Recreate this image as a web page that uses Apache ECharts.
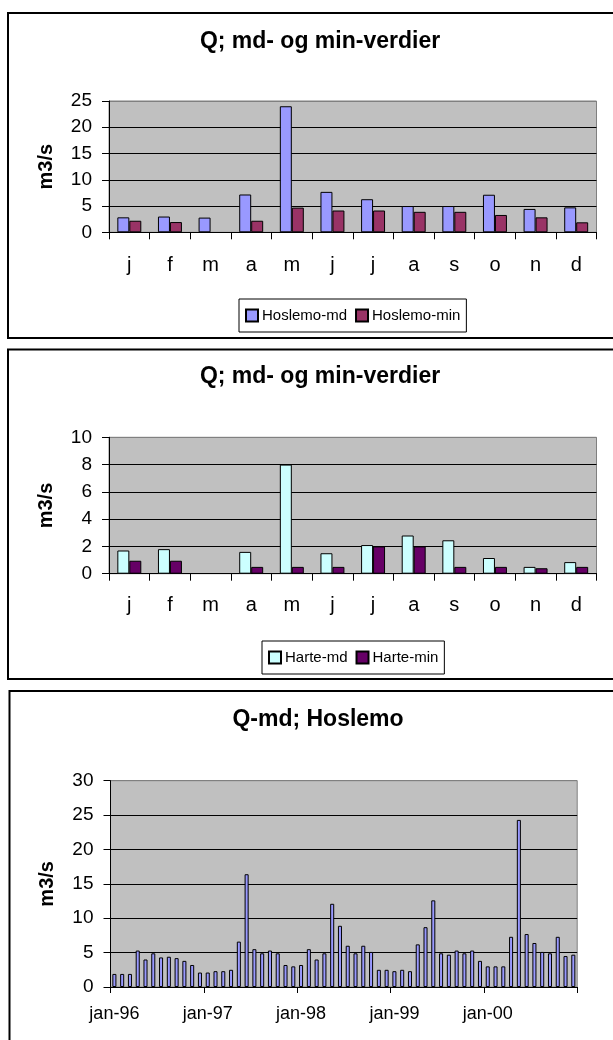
<!DOCTYPE html>
<html><head><meta charset="utf-8">
<script src="https://cdn.jsdelivr.net/npm/echarts@6/dist/echarts.min.js"></script>
<style>html,body{margin:0;padding:0;background:#fff}#c{width:613px;height:1040px}</style>
</head><body><div id="c"></div>
<script>
// ---- data ----
const monthLetters = ['j','f','m','a','m','j','j','a','s','o','n','d'];
const hoslemoMd  = [2.85, 3.0, 2.8, 7.2, 24.0, 7.7, 6.3, 5.0, 5.0, 7.15, 4.45, 4.75];
const hoslemoMin = [2.2, 1.95, null, 2.2, 4.7, 4.15, 4.15, 3.9, 3.9, 3.3, 2.85, 1.9];
const harteMd  = [1.7, 1.8, null, 1.6, 8.0, 1.5, 2.1, 2.8, 2.45, 1.15, 0.5, 0.85];
const harteMin = [0.95, 0.95, null, 0.5, 0.5, 0.5, 2.0, 2.0, 0.5, 0.5, 0.4, 0.5];
const monthNames = ['jan','feb','mar','apr','mai','jun','jul','aug','sep','okt','nov','des'];
const yearNames = ['96','97','98','99','00'];
const hoslemo1996 = [1.9, 1.9, 1.9, 5.3, 4.0, 4.9, 4.3, 4.4, 4.2, 3.8, 3.2, 2.1];
const hoslemo1997 = [2.1, 2.3, 2.3, 2.5, 6.6, 16.4, 5.5, 4.9, 5.3, 4.9, 3.2, 3.0];
const hoslemo1998 = [3.2, 5.5, 4.0, 4.9, 12.1, 8.9, 6.0, 4.9, 6.0, 5.1, 2.5, 2.5];
const hoslemo1999 = [2.3, 2.5, 2.3, 6.2, 8.7, 12.6, 4.9, 4.7, 5.3, 4.9, 5.3, 3.8];
const hoslemo2000 = [3.0, 3.0, 3.0, 7.3, 24.3, 7.7, 6.4, 5.1, 4.9, 7.3, 4.5, 4.7];
const yTicks1 = {min: 0, max: 25, interval: 5};
const yTicks2 = {min: 0, max: 10, interval: 2};
const yTicks3 = {min: 0, max: 30, interval: 5};

// ---- build ----
const monthCats = [];
yearNames.forEach(y => monthNames.forEach(m => monthCats.push(m + '-' + y)));
const hoslemoMonthly = [].concat(hoslemo1996, hoslemo1997, hoslemo1998, hoslemo1999, hoslemo2000);

const FONT = '"Liberation Sans", Arial, sans-serif';
const chart = echarts.init(document.getElementById('c'), null, {renderer: 'canvas'});

function yAxis(idx, t, nLines) {
  const colors = [];
  for (let i = 0; i < nLines - 1; i++) colors.push('#000');
  colors.push('#808080');
  return {
    type: 'value', gridIndex: idx, min: t.min, max: t.max, interval: t.interval,
    name: 'm3/s', nameLocation: 'middle', nameGap: 53,
    nameTextStyle: {fontFamily: FONT, fontSize: 20, fontWeight: 'bold', color: '#000'},
    axisLine: {show: true, lineStyle: {color: '#000', width: 1}},
    axisTick: {show: true, length: 7, lineStyle: {color: '#000'}},
    axisLabel: {fontFamily: FONT, fontSize: 19, color: '#000', margin: 17},
    splitLine: {show: true, lineStyle: {color: colors, width: 1}}
  };
}
function catAxis(idx, data, margin) {
  return {
    type: 'category', gridIndex: idx, data: data,
    axisLine: {show: true, lineStyle: {color: '#000', width: 1}},
    axisTick: {show: true, length: 7, interval: 0, lineStyle: {color: '#000'}},
    axisLabel: {fontFamily: FONT, fontSize: 20, color: '#000', margin: margin, interval: 0},
    splitLine: {show: false}
  };
}
const gridStyle = {show: true, backgroundColor: '#C0C0C0', borderColor: '#808080', borderWidth: 1, containLabel: false};
function legend(left, top, names) {
  return {
    left: left, top: top, orient: 'horizontal', data: names, icon: 'rect',
    itemWidth: 12, itemHeight: 12, itemGap: 8, padding: [9, 6, 9, 6],
    borderColor: '#000', borderWidth: 1, backgroundColor: '#fff',
    textStyle: {fontFamily: FONT, fontSize: 15, color: '#000', padding: [0, 0, 0, -1]},
    selectedMode: false
  };
}
function box(x, y, w, h) {
  return {type: 'rect', z: 0, shape: {x: x, y: y, width: w, height: h},
    style: {fill: 'none', stroke: '#000', lineWidth: 2}, silent: true};
}
function titleText(x, y, text) {
  return {type: 'text', z: 10, x: x, y: y,
    style: {text: text, font: 'bold 23px ' + FONT, fill: '#000', align: 'center', verticalAlign: 'middle'}, silent: true};
}
const barBorder = {borderColor: '#000', borderWidth: 1};

chart.setOption({
  animation: false,
  backgroundColor: '#fff',
  grid: [
    Object.assign({left: 109, top: 101, width: 487.5, height: 131.3}, gridStyle),
    Object.assign({left: 109, top: 437.3, width: 487.5, height: 136.4}, gridStyle),
    Object.assign({left: 110.5, top: 780.7, width: 466.7, height: 206.3}, gridStyle)
  ],
  xAxis: [
    catAxis(0, monthLetters, 23),
    catAxis(1, monthLetters, 22),
    Object.assign(catAxis(2, monthCats, 18), {
      axisTick: {show: true, length: 6, interval: 11, lineStyle: {color: '#000'}},
      axisLabel: {fontFamily: FONT, fontSize: 18, color: '#000', margin: 18, interval: 11}
    })
  ],
  yAxis: [yAxis(0, yTicks1, 6), yAxis(1, yTicks2, 6), yAxis(2, yTicks3, 7)],
  legend: [
    legend(239, 299, ['Hoslemo-md', 'Hoslemo-min']),
    legend(262, 641, ['Harte-md', 'Harte-min'])
  ],
  graphic: [
    box(8, 13, 640, 325),
    box(8, 349.5, 640, 329.5),
    box(9.5, 691, 640, 400),
    titleText(320, 42, 'Q; md- og min-verdier'),
    titleText(320, 377, 'Q; md- og min-verdier'),
    titleText(318, 720, 'Q-md; Hoslemo')
  ],
  series: [
    {name: 'Hoslemo-md', type: 'bar', xAxisIndex: 0, yAxisIndex: 0, data: hoslemoMd,
      itemStyle: Object.assign({color: '#9999FF'}, barBorder), barGap: '0%', barCategoryGap: '41%'},
    {name: 'Hoslemo-min', type: 'bar', xAxisIndex: 0, yAxisIndex: 0, data: hoslemoMin,
      itemStyle: Object.assign({color: '#993366'}, barBorder), barGap: '0%', barCategoryGap: '41%'},
    {name: 'Harte-md', type: 'bar', xAxisIndex: 1, yAxisIndex: 1, data: harteMd,
      itemStyle: Object.assign({color: '#CCFFFF'}, barBorder), barGap: '0%', barCategoryGap: '41%'},
    {name: 'Harte-min', type: 'bar', xAxisIndex: 1, yAxisIndex: 1, data: harteMin,
      itemStyle: Object.assign({color: '#660066'}, barBorder), barGap: '0%', barCategoryGap: '41%'},
    {name: 'Hoslemo-måned', type: 'bar', xAxisIndex: 2, yAxisIndex: 2, data: hoslemoMonthly,
      itemStyle: Object.assign({color: '#9999FF'}, barBorder), barCategoryGap: '48%'}
  ]
});
</script></body></html>
